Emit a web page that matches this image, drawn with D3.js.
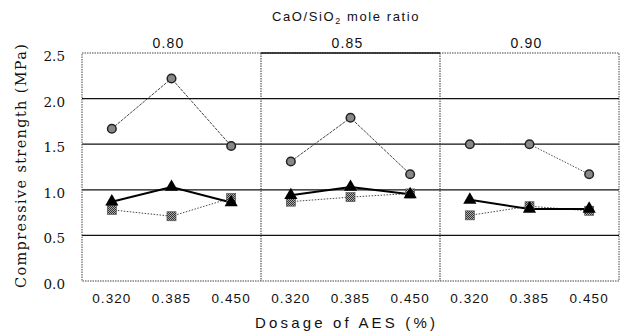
<!DOCTYPE html>
<html>
<head>
<meta charset="utf-8">
<script src="https://cdn.jsdelivr.net/npm/d3@7"></script>
<style>
body{margin:0;background:#fff}
text{font-family:"Liberation Sans",Arial,sans-serif;fill:#111}
.serif{font-family:"DejaVu Serif",serif}
</style>
</head>
<body>
<div id="chart"></div>
<script>
const ratios = ["0.80","0.85","0.90"]
const dosages = ["0.320","0.385","0.450"]
const yTicks = [0,0.5,1.0,1.5,2.0,2.5]

// one value per dosage, per panel
const circleVals = [[1.67,2.22,1.48],[1.31,1.79,1.17],[1.50,1.50,1.17]]
const triangleVals = [[0.87,1.03,0.86],[0.94,1.03,0.95],[0.89,0.79,0.79]]
const squareVals = [[0.78,0.71,0.91],[0.87,0.92,0.96],[0.72,0.82,0.77]]

const W=622,H=331
const m={left:82,right:3,top:53,bottom:50}

const svg=d3.select("#chart").append("svg").attr("width",W).attr("height",H)

const panel=d3.scaleBand().domain(ratios).range([m.left,W-m.right])
const xp=d3.scalePoint().domain(dosages).range([0,panel.bandwidth()]).padding(0.5)
const y=d3.scaleLinear().domain([0,2.5]).range([H-m.bottom,m.top])

const X=(r,d)=>panel(r)+xp(d)

// gridlines
svg.append("g").selectAll("line").data([0.5,1.0,1.5,2.0]).join("line")
	.attr("x1",m.left).attr("x2",W-m.right)
	.attr("y1",d=>y(d)).attr("y2",d=>y(d))
	.attr("stroke","#111").attr("stroke-width",1.3)

// frame, dotted
const dot="1.5,1"
svg.append("rect").attr("x",m.left).attr("y",y(2.5))
	.attr("width",W-m.right-m.left).attr("height",y(0)-y(2.5))
	.attr("fill","none").attr("stroke","#444").attr("stroke-dasharray",dot)
svg.append("g").selectAll("line").data(ratios.slice(1)).join("line")
	.attr("x1",d=>panel(d)).attr("x2",d=>panel(d))
	.attr("y1",y(2.5)).attr("y2",y(0))
	.attr("stroke","#333").attr("stroke-dasharray",dot)
// middle panel top edge is solid
svg.append("line").attr("x1",panel("0.85")).attr("x2",panel("0.85")+panel.bandwidth())
	.attr("y1",y(2.5)).attr("y2",y(2.5)).attr("stroke","#111").attr("stroke-width",1.6)

// y axis labels
svg.append("g").selectAll("text").data(yTicks).join("text")
	.attr("class","serif")
	.attr("x",m.left-17).attr("y",d=>y(d)+8)
	.attr("text-anchor","end").attr("font-size",13.5)
	.text(d=>d.toFixed(1))

// panel headers
svg.append("g").selectAll("text").data(ratios).join("text")
	.attr("x",d=>panel(d)+panel.bandwidth()/2-3).attr("y",48)
	.attr("text-anchor","middle").attr("font-size",14).attr("letter-spacing",1.2)
	.text(d=>d)

// x tick labels
const ticks=ratios.flatMap(r=>dosages.map(d=>({r,d})))
svg.append("g").selectAll("text").data(ticks).join("text")
	.attr("x",t=>X(t.r,t.d)).attr("y",303)
	.attr("text-anchor","middle").attr("font-size",13.5).attr("letter-spacing",1.1)
	.text(t=>t.d)

// titles
const topTitle=svg.append("text").attr("x",346).attr("y",21).attr("text-anchor","middle")
	.attr("font-size",13).attr("letter-spacing",1.6)
topTitle.append("tspan").text("CaO/SiO")
topTitle.append("tspan").attr("font-size",9).attr("dy",3).text("2")
topTitle.append("tspan").attr("dy",-3).text(" mole ratio")

svg.append("text").attr("x",345).attr("y",328).attr("text-anchor","middle")
	.attr("font-size",15).attr("textLength",180).attr("lengthAdjust","spacing")
	.text("Dosage of AES (%)")

svg.append("text").attr("class","serif").attr("transform","translate(26,166) rotate(-90)")
	.attr("text-anchor","middle").attr("font-size",14.5)
	.attr("textLength",244).attr("lengthAdjust","spacing")
	.text("Compressive strength (MPa)")

// hatch pattern for squares
const defs=svg.append("defs")
const pat=defs.append("pattern").attr("id","hatch").attr("width",2).attr("height",2)
	.attr("patternUnits","userSpaceOnUse")
pat.append("rect").attr("width",2).attr("height",2).attr("fill","#aaa")
pat.append("rect").attr("width",1).attr("height",1).attr("fill","#333")
pat.append("rect").attr("x",1).attr("y",1).attr("width",1).attr("height",1).attr("fill","#333")

const line=d3.line()

ratios.forEach((r,i)=>{
	const pts=vals=>vals[i].map((v,j)=>[X(r,dosages[j]),y(v)])
	const g=svg.append("g")

	g.append("path").attr("d",line(pts(squareVals))).attr("fill","none")
		.attr("stroke","#333").attr("stroke-width",0.9).attr("stroke-dasharray","1.5,1.5")
	g.append("path").attr("d",line(pts(circleVals))).attr("fill","none")
		.attr("stroke","#333").attr("stroke-width",0.9)
		.attr("stroke-dasharray",i==2?"1.5,1.5":"3,1")
	g.append("path").attr("d",line(pts(triangleVals))).attr("fill","none")
		.attr("stroke","#000").attr("stroke-width",2)

	g.selectAll(".sq").data(pts(squareVals)).join("rect")
		.attr("x",p=>p[0]-4.5).attr("y",p=>p[1]-4.5).attr("width",9).attr("height",9)
		.attr("fill","url(#hatch)").attr("stroke","#555").attr("stroke-width",0.7)
	g.selectAll(".tri").data(pts(triangleVals)).join("path")
		.attr("transform",p=>`translate(${p[0]},${p[1]})`)
		.attr("d",d3.symbol(d3.symbolTriangle,75)).attr("fill","#000")
	g.selectAll(".ci").data(pts(circleVals)).join("circle")
		.attr("cx",p=>p[0]).attr("cy",p=>p[1]).attr("r",4.3)
		.attr("fill","#888").attr("stroke","#222").attr("stroke-width",1.5)
})
</script>
</body>
</html>
